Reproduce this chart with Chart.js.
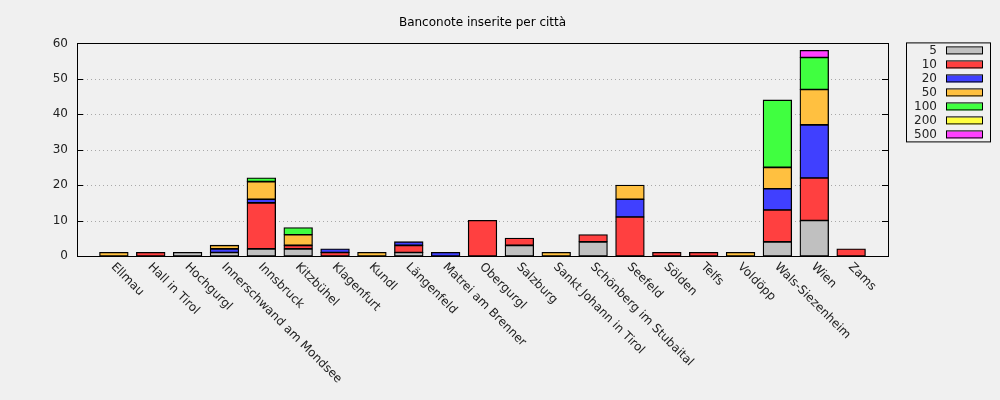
<!DOCTYPE html>
<html>
<head>
<meta charset="utf-8">
<script src="https://cdn.jsdelivr.net/npm/chart.js@4"></script>
<style>
  html, body { margin: 0; padding: 0; background: #f0f0f0; }
  #wrap { width: 1000px; height: 400px; position: relative; }
</style>
</head>
<body>
<div id="wrap"><canvas id="myChart"></canvas></div>
<script>
const cities = ['Ellmau', 'Hall in Tirol', 'Hochgurgl', 'Innerschwand am Mondsee', 'Innsbruck',
  'Kitzbühel', 'Klagenfurt', 'Kundl', 'Längenfeld', 'Matrei am Brenner', 'Obergurgl',
  'Salzburg', 'Sankt Johann in Tirol', 'Schönberg im Stubaital', 'Seefeld', 'Sölden',
  'Telfs', 'Voldöpp', 'Wals-Siezenheim', 'Wien', 'Zams'];

const notes5   = [0, 0, 1, 1, 2, 2, 0, 0, 1, 0, 0, 3, 0, 4, 0, 0, 0, 0, 4, 10, 0];
const notes10  = [0, 1, 0, 0, 13, 1, 1, 0, 2, 0, 10, 2, 0, 2, 11, 1, 1, 0, 9, 12, 2];
const notes20  = [0, 0, 0, 1, 1, 0, 1, 0, 1, 1, 0, 0, 0, 0, 5, 0, 0, 0, 6, 15, 0];
const notes50  = [1, 0, 0, 1, 5, 3, 0, 1, 0, 0, 0, 0, 1, 0, 4, 0, 0, 1, 6, 10, 0];
const notes100 = [0, 0, 0, 0, 1, 2, 0, 0, 0, 0, 0, 0, 0, 0, 0, 0, 0, 0, 19, 9, 0];
const notes200 = [0, 0, 0, 0, 0, 0, 0, 0, 0, 0, 0, 0, 0, 0, 0, 0, 0, 0, 0, 0, 0];
const notes500 = [0, 0, 0, 0, 0, 0, 0, 0, 0, 0, 0, 0, 0, 0, 0, 0, 0, 0, 0, 2, 0];

const seriesNames = ['5', '10', '20', '50', '100', '200', '500'];
const seriesData = [notes5, notes10, notes20, notes50, notes100, notes200, notes500];
const colors = ['#c0c0c0', '#ff4040', '#4040ff', '#ffc040', '#40ff40', '#ffff40', '#ff40ff'];
const yTicks = [0, 10, 20, 30, 40, 50, 60];

const FONT = '"DejaVu Sans", sans-serif';
Chart.defaults.font.family = FONT;
Chart.defaults.font.size = 12;
Chart.defaults.color = '#000';

// gnuplot-ish frame, inward ticks, dotted grid, rotated labels and boxed key
const gnuplotLook = {
  id: 'gnuplotLook',
  beforeDatasetsDraw(chart) {
    const {ctx, chartArea: a, scales: {y}} = chart;
    ctx.save();
    ctx.strokeStyle = '#a8a8a8';
    ctx.lineWidth = 1;
    ctx.setLineDash([1, 3]);
    yTicks.slice(1, -1).forEach(v => {
      const py = Math.round(y.getPixelForValue(v)) + 0.5;
      ctx.beginPath();
      ctx.moveTo(a.left + 6, py);
      ctx.lineTo(a.right - 6, py);
      ctx.stroke();
    });
    ctx.restore();
  },
  afterDraw(chart) {
    const {ctx, chartArea: a, scales: {x, y}} = chart;
    ctx.save();
    ctx.strokeStyle = '#000';
    ctx.lineWidth = 1;
    ctx.strokeRect(Math.round(a.left) + 0.5, Math.round(a.top) + 0.5,
      Math.round(a.right - a.left), Math.round(a.bottom - a.top));
    yTicks.forEach(v => {
      const py = Math.round(y.getPixelForValue(v)) + 0.5;
      ctx.beginPath();
      ctx.moveTo(a.left, py); ctx.lineTo(a.left + 6, py);
      ctx.moveTo(a.right - 6, py); ctx.lineTo(a.right, py);
      ctx.stroke();
    });

    // x labels, rotated clockwise, starting at the tick
    ctx.font = '12px ' + FONT;
    ctx.fillStyle = '#222';
    ctx.textAlign = 'left';
    ctx.textBaseline = 'middle';
    cities.forEach((c, i) => {
      const px = x.getPixelForValue(i);
      ctx.save();
      ctx.translate(px - 1, a.bottom + 9);
      ctx.rotate(Math.PI / 4);
      ctx.fillText(c, 0, 0);
      ctx.restore();
    });

    // key box
    const kx = a.right + 18, ky = a.top - 1, kw = 84, kh = 99;
    ctx.strokeRect(kx + 0.5, ky + 0.5, kw, kh);
    ctx.textAlign = 'right';
    seriesNames.forEach((n, i) => {
      const cy = ky + 8 + i * 14;
      ctx.fillStyle = '#222';
      ctx.fillText(n, kx + 31, cy);
      ctx.fillStyle = colors[i];
      ctx.fillRect(kx + 40, cy - 3, 36, 7);
      ctx.strokeRect(kx + 40.5, cy - 3.5, 36, 7);
    });
    ctx.restore();
  }
};

const data = {
  datasets: seriesNames.map((n, i) => ({
    label: n,
    data: seriesData[i].map((v, j) => ({ x: j, y: v === 0 ? null : v })),
    backgroundColor: colors[i],
    borderColor: '#000',
    borderWidth: 1.3,
    borderSkipped: false,
    inflateAmount: 0.5,
    barPercentage: 0.77,
    categoryPercentage: 1.0,
  }))
};

const config = {
  type: 'bar',
  data: data,
  options: {
    responsive: true,
    maintainAspectRatio: false,
    animation: false,
    layout: { padding: { left: 0, right: 112, top: 0, bottom: 0 } },
    plugins: {
      legend: { display: false },
      tooltip: { enabled: false },
      title: {
        display: true,
        text: 'Banconote inserite per città',
        fullSize: false,
        color: '#000',
        font: { size: 12, weight: 'normal' },
        padding: { top: 16, bottom: 13 }
      }
    },
    scales: {
      x: {
        type: 'linear',
        stacked: true,
        min: -1,
        max: cities.length,
        offset: false,
        grid: { display: false },
        border: { display: false },
        ticks: { display: false },
        afterFit: s => { s.height = 144; }
      },
      y: {
        stacked: true,
        min: 0,
        max: 60,
        grid: { display: false, drawTicks: false },
        border: { display: false },
        ticks: { stepSize: 10, padding: 9, color: '#222' },
        afterFit: s => { s.width = 77; }
      }
    }
  },
  plugins: [gnuplotLook]
};

const myChart = new Chart(document.getElementById('myChart'), config);
</script>
</body>
</html>
